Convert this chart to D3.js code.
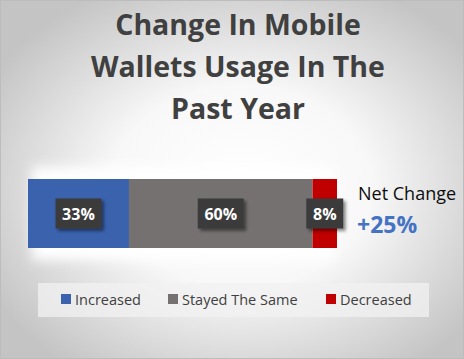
<!DOCTYPE html>
<html><head><meta charset="utf-8">
<script src="https://cdn.jsdelivr.net/npm/d3@7"></script>
<style>html,body{margin:0;padding:0;background:#fff;}svg{display:block;}</style>
</head><body>
<script>
const categories = ["Increased", "Stayed The Same", "Decreased"];
const values = [33, 60, 8];
const colors = ["#3A62AD", "#767171", "#C00000"];
const titleLines = ["Change In Mobile", "Wallets Usage In The", "Past Year"];
const netLabel = "Net Change";
const netValue = values[0] - values[2];

const W = 464, H = 359;
const svg = d3.select("body").append("svg").attr("width", W).attr("height", H);
const defs = svg.append("defs");
const rg = defs.append("radialGradient").attr("id", "bg").attr("cx", "52%").attr("cy", "52%").attr("r", "62%");
rg.append("stop").attr("offset", "0%").attr("stop-color", "#ffffff");
rg.append("stop").attr("offset", "45%").attr("stop-color", "#f8f8f8");
rg.append("stop").attr("offset", "100%").attr("stop-color", "#c4c4c4");
const blur = defs.append("filter").attr("id", "glow").attr("x", "-20%").attr("y", "-40%").attr("width", "140%").attr("height", "180%");
blur.append("feGaussianBlur").attr("stdDeviation", 6);
const sh = defs.append("filter").attr("id", "shadow").attr("x", "-30%").attr("y", "-30%").attr("width", "170%").attr("height", "170%");
sh.append("feDropShadow").attr("dx", 2.5).attr("dy", 2.5).attr("stdDeviation", 1.8).attr("flood-color", "#000").attr("flood-opacity", 0.45);

svg.append("rect").attr("x", 0).attr("y", 0).attr("width", W).attr("height", H).attr("fill", "url(#bg)");
svg.append("rect").attr("x", 0.5).attr("y", 0.5).attr("width", W - 1).attr("height", H - 1)
  .attr("fill", "none").attr("stroke", "#bdbdbd");

// Title
svg.append("g").selectAll("text").data(titleLines).join("text")
  .attr("x", 238).attr("y", (d, i) => 35 + i * 42)
  .attr("text-anchor", "middle")
  .attr("font-family", "Open Sans").attr("font-weight", "bold").attr("font-size", 28.5)
  .attr("fill", "#404040").text(d => d);

// Bar
const total = d3.sum(values);
const x = d3.scaleLinear().domain([0, total]).range([28, 337]);
const y = d3.scaleBand().domain(["row"]).range([179, 248]);
const starts = values.map((v, i) => d3.sum(values.slice(0, i)));

svg.append("rect").attr("x", x(0) + 4).attr("y", y("row") - 12).attr("width", x(total) - x(0) - 8)
  .attr("height", y.bandwidth() + 24).attr("fill", "#ffffff").attr("filter", "url(#glow)");

svg.append("g").selectAll("rect").data(values).join("rect")
  .attr("x", (d, i) => x(starts[i])).attr("y", y("row"))
  .attr("width", (d, i) => x(starts[i] + d) - x(starts[i]))
  .attr("height", y.bandwidth())
  .attr("fill", (d, i) => colors[i]);

// Data labels
const lab = svg.append("g").selectAll("g").data(values).join("g")
  .attr("transform", (d, i) => {
    let cx = (x(starts[i]) + x(starts[i] + d)) / 2;
    return `translate(${cx},${y("row") + y.bandwidth() / 2})`;
  });
lab.append("rect")
  .attr("x", (d) => d < 10 ? -18.5 : -23).attr("y", -15)
  .attr("width", d => d < 10 ? 37 : 46).attr("height", 30)
  .attr("fill", "#3b3b3b").attr("filter", "url(#shadow)");
lab.append("text").attr("y", 6).attr("text-anchor", "middle")
  .attr("font-family", "Open Sans").attr("font-weight", "bold").attr("font-size", 16)
  .attr("fill", "#ffffff").text(d => d + "%");

// Net change
svg.append("text").attr("x", 358).attr("y", 200)
  .attr("font-family", "Open Sans").attr("font-size", 18).attr("fill", "#0d0d0d").text(netLabel);
svg.append("text").attr("x", 357).attr("y", 233)
  .attr("font-family", "Open Sans").attr("font-weight", "bold").attr("font-size", 23)
  .attr("fill", "#4472C4").text((netValue >= 0 ? "+" : "") + netValue + "%");

// Legend
svg.append("rect").attr("x", 38).attr("y", 283).attr("width", 391).attr("height", 34)
  .attr("fill", "#f2f2f2").attr("fill-opacity", 0.75);
const legX = [61, 168, 326];
const leg = svg.append("g").selectAll("g").data(categories).join("g")
  .attr("transform", (d, i) => `translate(${legX[i]},0)`);
leg.append("rect").attr("x", 0).attr("y", 294).attr("width", 10).attr("height", 10)
  .attr("fill", (d, i) => colors[i]);
leg.append("text").attr("x", 14).attr("y", 305)
  .attr("font-family", "Open Sans").attr("font-size", 14.5).attr("fill", "#404040").text(d => d);
</script>
</body></html>
